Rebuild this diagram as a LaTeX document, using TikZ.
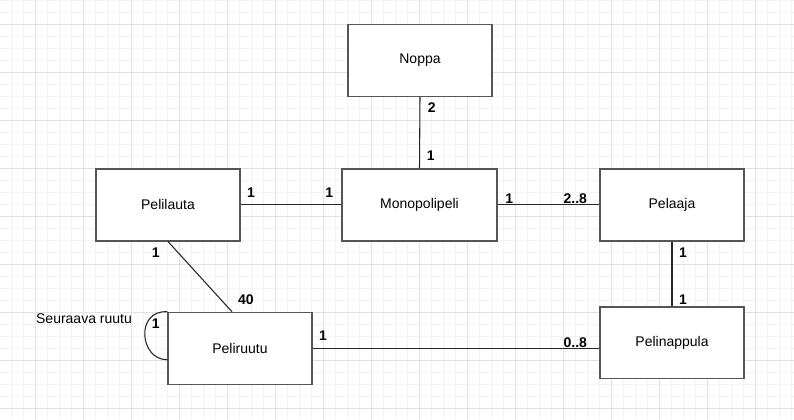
\documentclass[tikz,border=0pt]{standalone}
\usepackage{fontspec}
\setmainfont{Liberation Sans}
\usetikzlibrary{calc}
\definecolor{gridmajor}{HTML}{E2E2E2}
\definecolor{gridminor}{HTML}{F3F3F3}
\definecolor{boxline}{HTML}{555555}
\tikzset{
  classbox/.style={draw=boxline, line width=1.1pt, fill=white, minimum width=108pt, minimum height=54pt, inner sep=0pt, font=\fontsize{10.5pt}{12pt}\selectfont},
  mult/.style={inner sep=0pt, font=\fontsize{10.5pt}{12pt}\selectfont\bfseries},
  plain/.style={inner sep=0pt, font=\fontsize{10.5pt}{12pt}\selectfont},
  conn/.style={draw=black!85, line width=0.8pt}
}
\begin{document}
\begin{tikzpicture}[x=0.75pt,y=-0.75pt]
\useasboundingbox (0,0) rectangle (794,419);
\fill[white] (0,0) rectangle (794,419);
% grid
\foreach \i in {0,...,66} {\draw[gridminor, line width=0.75pt] ({11.5+12*\i},0) -- ({11.5+12*\i},419);}
\foreach \j in {0,...,35} {\draw[gridminor, line width=0.75pt] (0,{0.3+12*\j}) -- (794,{0.3+12*\j});}
\foreach \i in {0,...,16} {\draw[gridmajor, line width=0.75pt] ({35.5+48*\i},0) -- ({35.5+48*\i},419);}
\foreach \j in {0,...,8} {\draw[gridmajor, line width=0.75pt] (0,{24.3+48*\j}) -- (794,{24.3+48*\j});}
% boxes
\node[classbox] (noppa) at (420,60.5) {Noppa};
\node[classbox, minimum width=116.25pt] (mono) at (419.5,204.8) {Monopolipeli};
\node[classbox] (pelilauta) at (168,204.8) {Pelilauta};
\node[classbox] (pelaaja) at (672,204.8) {Pelaaja};
\node[classbox] (peliruutu) at (240,348.5) {Peliruutu};
\node[classbox, minimum height=53.5pt] (pelinappula) at (672,342.7) {Pelinappula};
% connectors
\draw[conn] (noppa.south) -- (mono.north);
\draw[conn] (pelilauta.east) -- (mono.west);
\draw[conn] (mono.east) -- (pelaaja.west);
\draw[conn] (pelaaja.south) -- (pelinappula.north);
\draw[conn] (peliruutu.east) -- (peliruutu.east -| pelinappula.west);
\draw[conn] (pelilauta.south) -- ([xshift=-6pt]peliruutu.north);
\coordinate (loopend) at ($(peliruutu.north west)+(0,48)$);
\draw[conn] (peliruutu.north west) .. controls +(-32,-2) and +(-28,0) .. (loopend);
% multiplicities
\node[mult] (m1) at (431.7,107.7) {2};
\node[mult] (m2) at (430.7,156) {1};
\node[mult] (m3) at (251,192.3) {1};
\node[mult] (m4) at (329.3,192.3) {1};
\node[mult] (m5) at (509.3,198.3) {1};
\node[mult] (m6) at (575.3,198.3) {2..8};
\node[mult] (m7) at (683,252.3) {1};
\node[mult] (m8) at (683,299.3) {1};
\node[mult] (m9) at (155.7,252.3) {1};
\node[mult] (m10) at (246,300) {40};
\node[mult] (m11) at (155.7,324) {1};
\node[mult] (m12) at (323,336) {1};
\node[mult] (m13) at (575.3,342.3) {0..8};
\node[plain] (seur) at (84,318.3) {Seuraava ruutu};
\end{tikzpicture}
\end{document}
